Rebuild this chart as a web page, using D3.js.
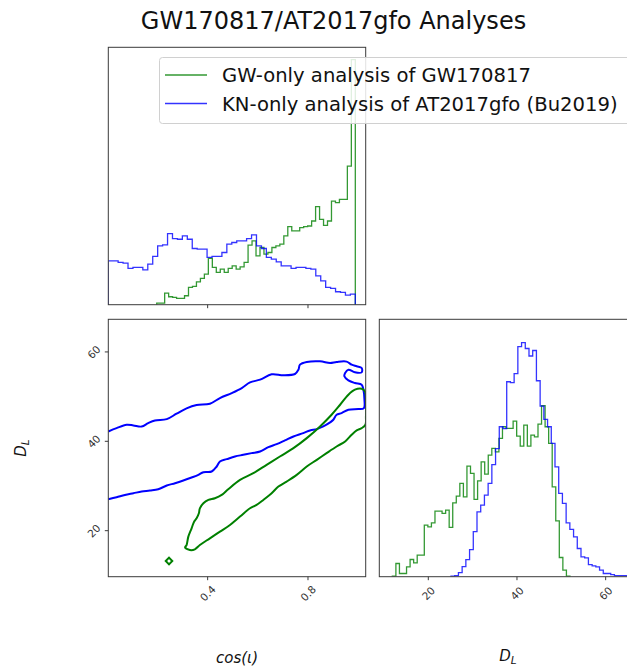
<!DOCTYPE html>
<html><head><meta charset="utf-8">
<script src="https://cdn.jsdelivr.net/npm/d3@7/dist/d3.min.js"></script>
<style>
body{margin:0;background:#fff;}
svg{display:block;font-family:"DejaVu Sans",sans-serif;}
</style></head>
<body><svg id="c" width="627" height="669"></svg>
<script>
// ---------------- DATA ----------------
const seriesNames = ["GW-only analysis of GW170817", "KN-only analysis of AT2017gfo (Bu2019)"];
const seriesColors = ["#008000", "#0000ff"];

// cos(iota) histograms (50 bins each, arbitrary density units)
const cosGWRange = [0.197, 0.9886];
const cosGWCounts = [1.5,1.5,11.7,8,7.4,6.4,6.4,9,17.4,18.4,23,26.4,30.7,46.4,37.4,32.4,35.7,32.4,36.4,39,
  35.7,38,42.4,59.7,64,49,57.4,50.7,52.4,57.4,59,60.7,69,78.4,74,74,77.4,78.4,79,84,
  98.4,85.7,79.7,84,104,102.4,105.7,105.7,139,246];
const cosKNRange = [0.0038, 0.9886];
const cosKNCounts = [44,44,42.4,41.7,36.4,37.4,37.4,35,40.7,48.4,59,60,71.4,66.4,65.7,69,65.7,56.4,55.7,55.7,
  47.4,48.4,48.4,52.4,60.7,62.4,64,64,66.4,70,59,56.4,47.4,45.7,43,39,39,36.4,37.4,37.4,
  36.4,35.7,29,24,17.4,16.4,13,12.4,9.7,10.7];

// D_L histograms (50 bins each)
const dlGWRange = [11.89, 51.95];
const dlGWCounts = [0.5,13.2,3.2,3.2,9.8,17.2,13.8,21.5,21.5,51.5,49.8,53.8,65.5,65.5,63.2,66.5,49.2,73.8,80.5,93.2,
  79.8,110.5,103.2,77.2,95.8,114.8,102.5,121.5,128.2,124.8,138.2,149.8,148.2,148.2,155.5,140.5,130.5,151.5,130.5,141.5,
  139.8,152.5,170.8,149.8,133.2,89.8,55.8,19.2,6.5,0.5];
const dlKNRange = [25.12, 67.0];
const dlKNCounts = [0.5,1,4,10,17,27,45,64.8,71.5,81.5,93.2,112,128,149.8,148,194.8,194,203,229.8,233.8,
  228,220.5,226,195.8,170.5,157.2,149.8,133.2,109.8,83.2,73.2,53.8,47.2,39.8,28.2,19.8,18.8,12,10.8,9.8,
  6.5,3.2,3.2,2,1,1,1,1,0.5,0.5];

// 2D credible contours: [cos(iota), D_L]
const contourKN = [[0.004,42.2],[0.037,42.95],[0.077,43.7],[0.104,43.55],[0.137,43.3],[0.163,44.07],[0.19,44.67],
 [0.237,44.97],[0.276,46.17],[0.316,47.36],[0.356,48.1],[0.409,48.4],[0.449,49.68],[0.496,50.8],[0.536,51.92],
 [0.569,53.19],[0.609,53.79],[0.655,54.99],[0.702,54.77],[0.748,55.06],[0.762,56.03],[0.768,57.15],[0.795,57.75],
 [0.848,57.9],[0.888,57.52],[0.914,57.75],[0.954,57.83],[0.974,57.15],[0.994,56.78],[1.014,56.4],[1.014,55.43],
 [0.987,55.43],[0.961,56.03],[0.948,55.28],[0.945,54.54],[0.961,53.64],[0.987,53.04],[1.014,52.67],[1.021,51.55],
 [1.025,49.3],[1.023,47.44],[1.001,47.21],[0.961,47.06],[0.934,46.32],[0.914,45.94],[0.901,44.82],[0.888,44.22],
 [0.861,43.33],[0.835,42.73],[0.808,42.43],[0.781,41.83],[0.742,41.08],[0.708,40.19],[0.675,39.36],[0.642,38.69],
 [0.609,37.72],[0.575,37.35],[0.542,36.97],[0.509,36.6],[0.476,36.0],[0.449,35.48],[0.436,34.36],[0.416,33.24],
 [0.383,33.09],[0.363,32.49],[0.336,31.89],[0.303,31.22],[0.27,30.62],[0.237,30.1],[0.203,29.28],[0.17,28.98],
 [0.137,28.75],[0.104,28.38],[0.07,28.0],[0.037,27.48],[0.004,27.03]];
const contourGW = [[0.31,16.27],[0.316,16.79],[0.323,18.66],[0.336,20.53],[0.346,22.02],[0.356,22.77],[0.365,23.89],
 [0.369,25.01],[0.383,26.14],[0.403,26.88],[0.429,27.26],[0.456,28.0],[0.482,29.27],[0.529,31.37],[0.582,32.86],
 [0.635,34.73],[0.688,36.6],[0.742,38.47],[0.795,40.71],[0.848,43.33],[0.894,45.94],[0.928,48.18],[0.961,50.43],
 [0.987,51.55],[1.014,51.77],[1.027,51.17],[1.031,49.3],[1.031,45.57],[1.029,43.7],[1.014,42.95],[0.994,42.43],
 [0.974,41.46],[0.948,39.96],[0.914,38.84],[0.874,37.35],[0.835,35.85],[0.795,34.36],[0.755,32.49],[0.715,30.99],
 [0.682,29.87],[0.655,28.38],[0.622,26.88],[0.595,25.76],[0.569,25.01],[0.529,23.15],[0.489,21.28],[0.449,19.78],
 [0.409,18.29],[0.369,16.79],[0.349,15.82],[0.329,15.67]];
const contourGWIsland = [[0.233,13.21],[0.246,13.96],[0.259,13.21],[0.246,12.46]];

const cosTicks = [0.4, 0.8];
const dlTicks = [20, 40, 60];
const cosDomain = [0.004, 1.03];
const dlDomainY = [9.7, 67.3];
const dlDomainX = [8.95, 67.0];

// ---------------- LAYOUT ----------------
const svg = d3.select("#c");
const P = 257.4, L0 = 108.3, L1 = 379.3, T0 = 47.3, T1 = 319.3;
const axisColor = "#3a3a3a";

const xCos = d3.scaleLinear().domain(cosDomain).range([L0, L0 + P]);
const xDL = d3.scaleLinear().domain(dlDomainX).range([L1, L1 + P]);
const yDL = d3.scaleLinear().domain(dlDomainY).range([T1 + P, T1]);
const yHcos = d3.scaleLinear().domain([0, d3.max(cosGWCounts.concat(cosKNCounts)) * 1.05]).range([T0 + P, T0]);
const yHdl = d3.scaleLinear().domain([0, d3.max(dlGWCounts.concat(dlKNCounts)) * 1.1]).range([T1 + P, T1]);

const defs = svg.append("defs");
function clip(id, x, y) {
  defs.append("clipPath").attr("id", id).append("rect").attr("x", x).attr("y", y).attr("width", P).attr("height", P);
}
clip("c0", L0, T0); clip("c1", L0, T1); clip("c2", L1, T1);

function frame(x, y) {
  svg.append("rect").attr("x", x).attr("y", y).attr("width", P).attr("height", P)
    .attr("fill", "none").attr("stroke", axisColor).attr("stroke-width", 1);
}

function stepPoints(range, counts) {
  const n = counts.length, w = (range[1] - range[0]) / n;
  const pts = [[range[0], 0]];
  counts.forEach((c, i) => { pts.push([range[0] + i * w, c]); pts.push([range[0] + (i + 1) * w, c]); });
  pts.push([range[1], 0]);
  return pts;
}
function drawHist(clipId, xs, ys, range, counts, color) {
  const line = d3.line().x(d => xs(d[0])).y(d => ys(d[1]));
  svg.append("path").attr("clip-path", `url(#${clipId})`).attr("d", line(stepPoints(range, counts)))
    .attr("fill", "none").attr("stroke", color).attr("stroke-width", 1.3).attr("stroke-opacity", 0.8);
}

// Top-left: cos(iota) histograms
drawHist("c0", xCos, yHcos, cosGWRange, cosGWCounts, seriesColors[0]);
drawHist("c0", xCos, yHcos, cosKNRange, cosKNCounts, seriesColors[1]);
frame(L0, T0);

// Bottom-right: D_L histograms
drawHist("c2", xDL, yHdl, dlGWRange, dlGWCounts, seriesColors[0]);
drawHist("c2", xDL, yHdl, dlKNRange, dlKNCounts, seriesColors[1]);
frame(L1, T1);

// Bottom-left: contours
const cl = d3.line().x(d => xCos(d[0])).y(d => yDL(d[1]));
svg.append("path").attr("clip-path", "url(#c1)").attr("d", cl.curve(d3.curveCatmullRom)(contourKN))
  .attr("fill", "none").attr("stroke", seriesColors[1]).attr("stroke-width", 2);
svg.append("path").attr("clip-path", "url(#c1)").attr("d", cl.curve(d3.curveCatmullRomClosed)(contourGW))
  .attr("fill", "none").attr("stroke", seriesColors[0]).attr("stroke-width", 2);
svg.append("path").attr("clip-path", "url(#c1)").attr("d", cl.curve(d3.curveLinearClosed)(contourGWIsland))
  .attr("fill", "none").attr("stroke", seriesColors[0]).attr("stroke-width", 2);
frame(L0, T1);

// ---------------- TICKS ----------------
const TL = 3.5;
function xTicks(scale, ticks, yBase, labels) {
  ticks.forEach(t => {
    const x = scale(t);
    svg.append("line").attr("x1", x).attr("x2", x).attr("y1", yBase).attr("y2", yBase + TL)
      .attr("stroke", axisColor).attr("stroke-width", 1);
    if (labels) {
      const ly = yBase + 16.5;
      svg.append("text").attr("x", x).attr("y", ly).attr("text-anchor", "middle").attr("dominant-baseline", "central")
        .attr("transform", `rotate(-45,${x},${ly})`).attr("font-size", 10.5).attr("fill", "#333").text(String(t));
    }
  });
}
function yTicks(scale, ticks, xBase) {
  ticks.forEach(t => {
    const y = scale(t);
    svg.append("line").attr("x1", xBase - TL).attr("x2", xBase).attr("y1", y).attr("y2", y)
      .attr("stroke", axisColor).attr("stroke-width", 1);
    const lx = xBase - 14.5;
    svg.append("text").attr("x", lx).attr("y", y).attr("text-anchor", "middle").attr("dominant-baseline", "central")
      .attr("transform", `rotate(-45,${lx},${y})`).attr("font-size", 10.5).attr("fill", "#333").text(String(t));
  });
}
xTicks(xCos, cosTicks, T0 + P, false);
xTicks(xCos, cosTicks, T1 + P, true);
xTicks(xDL, dlTicks, T1 + P, true);
yTicks(yDL, dlTicks, L0);

// ---------------- LABELS ----------------
svg.append("text").attr("x", 333.5).attr("y", 29).attr("text-anchor", "middle").attr("font-size", 24)
  .attr("fill", "#111").text("GW170817/AT2017gfo Analyses");

const xl = svg.append("text").attr("x", L0 + P / 2).attr("y", 663).attr("text-anchor", "middle")
  .attr("font-size", 15).attr("font-style", "italic").attr("fill", "#111");
xl.text("cos(ι)");

const dl1 = svg.append("text").attr("x", L1 + P / 2).attr("y", 661).attr("text-anchor", "middle")
  .attr("font-size", 15).attr("font-style", "italic").attr("fill", "#111");
dl1.append("tspan").text("D");
dl1.append("tspan").attr("font-size", 10.5).attr("dy", 3).text("L");

const yl = svg.append("text").attr("transform", `translate(26,${T1 + P / 2}) rotate(-90)`).attr("text-anchor", "middle")
  .attr("font-size", 15).attr("font-style", "italic").attr("fill", "#111");
yl.append("tspan").text("D");
yl.append("tspan").attr("font-size", 10.5).attr("dy", 3).text("L");

// ---------------- LEGEND ----------------
const lg = svg.append("g");
lg.append("rect").attr("x", 159.5).attr("y", 57.5).attr("width", 475).attr("height", 66).attr("rx", 3)
  .attr("fill", "#fff").attr("fill-opacity", 0.85).attr("stroke", "#d0d0d0").attr("stroke-width", 1);
seriesNames.forEach((name, i) => {
  const y = 75 + i * 28.5;
  lg.append("line").attr("x1", 165).attr("x2", 207).attr("y1", y).attr("y2", y)
    .attr("stroke", seriesColors[i]).attr("stroke-width", 1.5).attr("stroke-opacity", 0.8);
  lg.append("text").attr("x", 222).attr("y", y + 7).attr("font-size", 19.6).attr("fill", "#111").text(name);
});
</script></body></html>
